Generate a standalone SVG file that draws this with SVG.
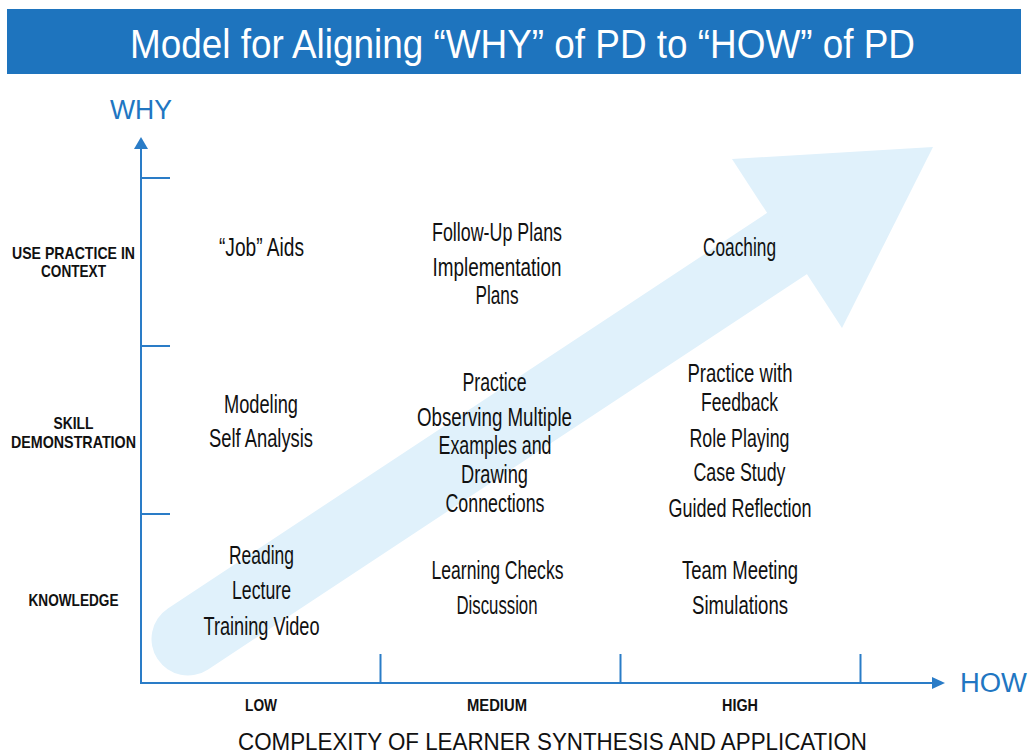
<svg xmlns="http://www.w3.org/2000/svg" width="1028" height="753" viewBox="0 0 1028 753">
<style>
  .cell { font-family: "Liberation Sans", Arial, sans-serif; font-size: 25.5px; fill: #111; text-anchor: middle; }
  .lvl { font-family: "Liberation Sans", Arial, sans-serif; font-size: 17px; font-weight: bold; fill: #111; text-anchor: middle; }
  .axislbl { font-family: "Liberation Sans", Arial, sans-serif; font-size: 27px; fill: #2176C2; }
  .axis { stroke: #2A7CC7; stroke-width: 2; fill: none; }
  .axhead { fill: #2A7CC7; }
</style>
<rect width="1028" height="753" fill="#ffffff"/>

<g id="title">
  <rect x="7" y="9" width="1014" height="65" fill="#1E74BE"/>
  <text x="522.5" y="58" font-family="'Liberation Sans', Arial, sans-serif" font-size="40" fill="#ffffff" text-anchor="middle" textLength="785" lengthAdjust="spacingAndGlyphs">Model for Aligning “WHY” of PD to “HOW” of PD</text>
</g>

<g id="progress-arrow">
  <line x1="188" y1="639" x2="787" y2="243.5" stroke="#E0F1FB" stroke-width="73" stroke-linecap="round"/>
  <polygon points="732,159 933,147 842,328" fill="#E0F1FB"/>
</g>

<g id="connectors">
  <line class="axis" x1="141" y1="148" x2="141" y2="684"/>
  <polygon class="axhead" points="141,137 134,149 148,149"/>
  <line class="axis" x1="140" y1="683" x2="933" y2="683"/>
  <polygon class="axhead" points="945,683 932,677 932,689"/>
  <line class="axis" x1="141" y1="178" x2="170" y2="178"/>
  <line class="axis" x1="141" y1="346" x2="170" y2="346"/>
  <line class="axis" x1="141" y1="514" x2="170" y2="514"/>
  <line class="axis" x1="380.5" y1="654" x2="380.5" y2="683"/>
  <line class="axis" x1="620.5" y1="654" x2="620.5" y2="683"/>
  <line class="axis" x1="860.5" y1="654" x2="860.5" y2="683"/>
</g>

<g id="axis-why">
  <text class="axislbl" x="110" y="119" textLength="62" lengthAdjust="spacingAndGlyphs">WHY</text>
</g>
<g id="axis-how">
  <text class="axislbl" x="960" y="692" textLength="67" lengthAdjust="spacingAndGlyphs">HOW</text>
</g>

<g id="level-use">
  <text class="lvl" x="73.5" y="259" textLength="123" lengthAdjust="spacingAndGlyphs">USE PRACTICE IN</text>
  <text class="lvl" x="73.5" y="277" textLength="65" lengthAdjust="spacingAndGlyphs">CONTEXT</text>
</g>
<g id="level-skill">
  <text class="lvl" x="73.5" y="429" textLength="40" lengthAdjust="spacingAndGlyphs">SKILL</text>
  <text class="lvl" x="73.5" y="448" textLength="125" lengthAdjust="spacingAndGlyphs">DEMONSTRATION</text>
</g>
<g id="level-knowledge">
  <text class="lvl" x="73.5" y="606" textLength="90" lengthAdjust="spacingAndGlyphs">KNOWLEDGE</text>
</g>

<g id="complexity-low">
  <text class="lvl" x="261" y="711" textLength="32" lengthAdjust="spacingAndGlyphs">LOW</text>
</g>
<g id="complexity-medium">
  <text class="lvl" x="497" y="711" textLength="60" lengthAdjust="spacingAndGlyphs">MEDIUM</text>
</g>
<g id="complexity-high">
  <text class="lvl" x="740" y="711" textLength="36" lengthAdjust="spacingAndGlyphs">HIGH</text>
</g>
<g id="complexity-title">
  <text x="552.5" y="750" font-family="'Liberation Sans', Arial, sans-serif" font-size="24" fill="#111" text-anchor="middle" textLength="629" lengthAdjust="spacingAndGlyphs">COMPLEXITY OF LEARNER SYNTHESIS AND APPLICATION</text>
</g>

<g id="cell-low-use">
  <text class="cell" x="261.5" y="256" textLength="85" lengthAdjust="spacingAndGlyphs">“Job” Aids</text>
</g>
<g id="cell-low-skill">
  <text class="cell" x="261" y="413" textLength="74" lengthAdjust="spacingAndGlyphs">Modeling</text>
  <text class="cell" x="261" y="447" textLength="104" lengthAdjust="spacingAndGlyphs">Self Analysis</text>
</g>
<g id="cell-low-knowledge">
  <text class="cell" x="261.5" y="564" textLength="65" lengthAdjust="spacingAndGlyphs">Reading</text>
  <text class="cell" x="261.5" y="599" textLength="59" lengthAdjust="spacingAndGlyphs">Lecture</text>
  <text class="cell" x="261.5" y="635" textLength="116" lengthAdjust="spacingAndGlyphs">Training Video</text>
</g>

<g id="cell-medium-use">
  <text class="cell" x="497" y="241" textLength="130" lengthAdjust="spacingAndGlyphs">Follow-Up Plans</text>
  <text class="cell" x="497" y="276" textLength="129" lengthAdjust="spacingAndGlyphs">Implementation</text>
  <text class="cell" x="497" y="304" textLength="43" lengthAdjust="spacingAndGlyphs">Plans</text>
</g>
<g id="cell-medium-skill">
  <text class="cell" x="494.5" y="391" textLength="64" lengthAdjust="spacingAndGlyphs">Practice</text>
  <text class="cell" x="494.5" y="426" textLength="155" lengthAdjust="spacingAndGlyphs">Observing Multiple</text>
  <text class="cell" x="495" y="454" textLength="113" lengthAdjust="spacingAndGlyphs">Examples and</text>
  <text class="cell" x="494.5" y="483" textLength="67" lengthAdjust="spacingAndGlyphs">Drawing</text>
  <text class="cell" x="495" y="512" textLength="99" lengthAdjust="spacingAndGlyphs">Connections</text>
</g>
<g id="cell-medium-knowledge">
  <text class="cell" x="497.5" y="579" textLength="132" lengthAdjust="spacingAndGlyphs">Learning Checks</text>
  <text class="cell" x="497" y="614" textLength="81" lengthAdjust="spacingAndGlyphs">Discussion</text>
</g>

<g id="cell-high-use">
  <text class="cell" x="739.5" y="256" textLength="73" lengthAdjust="spacingAndGlyphs">Coaching</text>
</g>
<g id="cell-high-skill">
  <text class="cell" x="740" y="382" textLength="105" lengthAdjust="spacingAndGlyphs">Practice with</text>
  <text class="cell" x="739.5" y="411" textLength="77" lengthAdjust="spacingAndGlyphs">Feedback</text>
  <text class="cell" x="739.5" y="447" textLength="100" lengthAdjust="spacingAndGlyphs">Role Playing</text>
  <text class="cell" x="739.5" y="481" textLength="92" lengthAdjust="spacingAndGlyphs">Case Study</text>
  <text class="cell" x="740" y="517" textLength="143" lengthAdjust="spacingAndGlyphs">Guided Reflection</text>
</g>
<g id="cell-high-knowledge">
  <text class="cell" x="740" y="579" textLength="116" lengthAdjust="spacingAndGlyphs">Team Meeting</text>
  <text class="cell" x="740" y="614" textLength="96" lengthAdjust="spacingAndGlyphs">Simulations</text>
</g>
</svg>
